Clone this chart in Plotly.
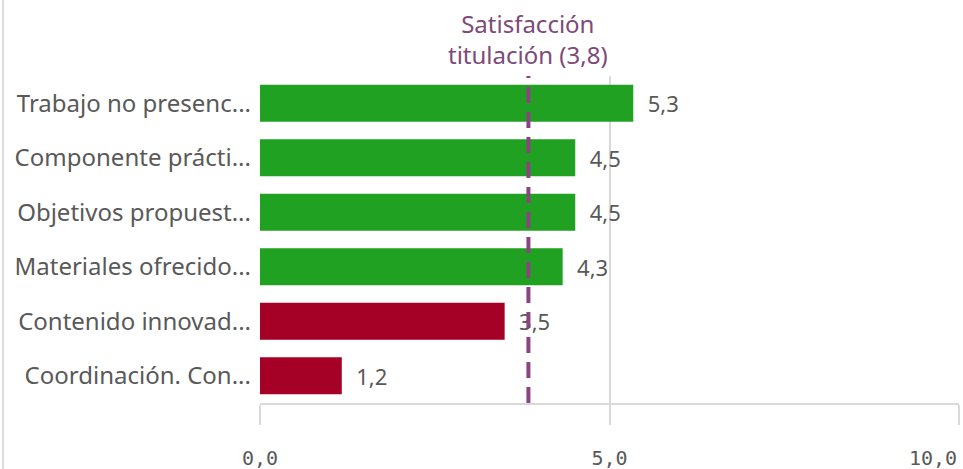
import plotly.graph_objects as go

categories = [
    "Trabajo no presenc...",
    "Componente prácti...",
    "Objetivos propuest...",
    "Materiales ofrecido...",
    "Contenido innovad...",
    "Coordinación. Con...",
]
values = [5.34, 4.51, 4.51, 4.33, 3.5, 1.17]
bar_colors = ["#21a121", "#21a121", "#21a121", "#21a121", "#a50026", "#a50026"]
reference_value = 3.84
reference_title = "Satisfacción<br>titulación"
tick_vals = [0, 5, 10]
tick_text = ["0,0", "5,0", ""]
last_tick_value = 10
last_tick_text = "10,0"


def fmt(v):
    return f"{v:.1f}".replace(".", ",")


fig = go.Figure()
fig.add_trace(go.Bar(
    y=categories,
    x=values,
    orientation="h",
    marker=dict(color=bar_colors, line=dict(width=0)),
    text=["\u00a0\u00a0" + fmt(v) for v in values],
    textposition="outside",
    textfont=dict(family="Noto Sans", size=22, color="#595959"),
    cliponaxis=False,
    hoverinfo="skip",
))

fig.add_shape(type="line", xref="x", yref="paper",
              x0=reference_value, x1=reference_value, y0=0, y1=1,
              line=dict(color="#8a4580", width=4, dash="16px,9px"), layer="above")
fig.add_annotation(x=reference_value, xref="x", y=1, yref="paper",
                   yanchor="bottom", yshift=3, showarrow=False,
                   text=f"{reference_title} ({fmt(reference_value)})",
                   font=dict(family="Noto Sans", size=24, color="#7d4a79"))
fig.add_annotation(x=last_tick_value, xref="x", y=0, yref="paper",
                   xanchor="right", yanchor="middle", yshift=-55, xshift=0,
                   showarrow=False, text=last_tick_text,
                   font=dict(family="DejaVu Sans Mono", size=20, color="#595959"))
fig.add_shape(type="line", xref="paper", yref="paper",
              x0=(3 - 260) / 699, x1=(3 - 260) / 699, y0=-66 / 327, y1=(327 + 76) / 327,
              line=dict(color="#dcdcdc", width=2), layer="below")

fig.update_layout(
    width=963, height=469,
    margin=dict(l=260, r=4, t=76, b=66, autoexpand=False),
    paper_bgcolor="white", plot_bgcolor="white",
    showlegend=False,
    bargap=0.32,
    xaxis=dict(range=[0, 10], tickvals=tick_vals, ticktext=tick_text,
               automargin=False,
               showgrid=True, gridcolor="#d9d9d9", gridwidth=2, zeroline=False,
               showline=True, linecolor="#d9d9d9", linewidth=2,
               ticks="outside", ticklen=20, tickwidth=2, tickcolor="#d9d9d9",
               ticklabelstandoff=16, ticklabeloverflow="allow",
               tickfont=dict(family="DejaVu Sans Mono", size=20, color="#595959"),
               fixedrange=True),
    yaxis=dict(autorange="reversed", showgrid=False, zeroline=False, showline=False,
               automargin=False,
               ticks="", ticklabelstandoff=8,
               tickfont=dict(family="Noto Sans", size=24, color="#595959"),
               fixedrange=True),
)

fig.write_html("out.html", config={"displayModeBar": False},
               post_script="document.body.style.margin='0';document.body.style.overflow='hidden';")
